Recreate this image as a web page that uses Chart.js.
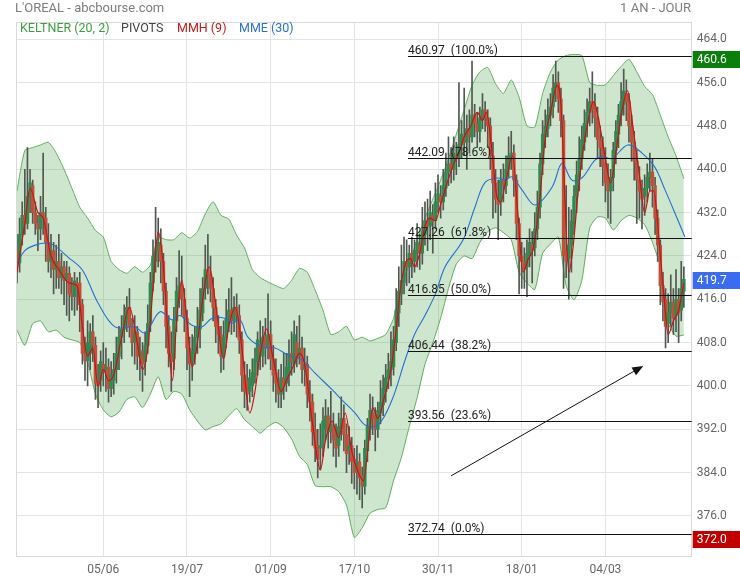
<!DOCTYPE html>
<html><head><meta charset="utf-8">
<script src="https://cdn.jsdelivr.net/npm/chart.js@4.4.0/dist/chart.umd.min.js"></script>
<style>html,body{margin:0;padding:0;background:#fff;}canvas{display:block;}</style>
</head><body>
<canvas id="c" width="740" height="580"></canvas>
<script>
// ---- texts ----
const chartTitle = "L'OREAL - abcbourse.com";
const periodText = "1 AN - JOUR";
const legendItems = ["KELTNER (20, 2)", "PIVOTS", "MMH (9)", "MME (30)"];
const legendColors = ["#3c9f3c", "#444444", "#c41a1a", "#2a72d0"];

// ---- axes ----
const xTickIdx = [33, 65, 97, 129, 161, 193, 225];
const xTickLabels = ["05/06", "19/07", "01/09", "17/10", "30/11", "18/01", "04/03"];
const yTicks = [376, 384, 392, 400, 408, 416, 424, 432, 440, 448, 456, 464];

// ---- daily candles (one per trading day, index 0..255) ----
const opens = [425.5,422.7,428,431.5,430,435,437,432,430,429,
432,431,426.5,423,425,421.5,423,420,422,419.5,
420.8,417,416.5,419,419,415,406,404.6,406,410,
407.5,400.5,401,404,403,403.5,399.5,401,403,405.5,
409,410.5,412,414.5,411,408,410,405.5,406.5,404.5,
407.5,411.5,419,423,425,426,423,417.5,411,406,
405,412,417,418.5,416,412.5,407,404.5,406,409,
410.5,413.5,418,421.5,420.5,418,414.5,411,409.5,405.5,
409,412.5,414,412,414.5,413,408.5,402,401,399,
400,402,404.5,407.5,405.5,409,407,409.5,405,402.5,
401,398.5,401.5,400.5,402,406,404,408,405.5,407,
403,404,398.5,397,392,389,388.5,389,392,394.5,
391.5,392.5,390,389,392,394,391,388,389,386.5,
384.5,386,383.5,381.5,388,392,395,394.5,392,395,
396.5,399,401.5,403,403.5,408,413.5,417,419,423,
422,424.5,423,424.5,426,424.5,428,430.5,429.5,431.5,
430.5,434,435,434,436.5,439.5,441,440,442.5,442,
444.5,446,445,447.5,446,450,448.5,447,449.5,451,
449.5,448,442.5,437.5,434.5,434,438,437,440,442,
443,438,430,424,423,422,424,426,425.5,429,
433,441,446,447.5,450,451.5,455,456,453,449,
425,423.5,426,430,435,438.5,442,445,448.5,450.5,
452.5,451.5,449.5,445.5,444,441,438.5,436,438.5,443.5,
446.5,450,452,454,452.5,448,445,441.5,438,436,
435,436.5,438.5,439.5,437,431,426,418.5,416,411.5,
413.5,415.5,413,416,414,417.5];
const highs = [428,431,434,440,444,440,438,434,431.5,435,
443,433,430,428,426.5,426,428,424.5,423,423,
422,420,421,420,421,416,409,412,411.5,413,
409,404,406.5,408,407,405,404.5,406,409,411,
413,415,416.5,418,412.5,413,411,409,408,410,
415,421,427,433,431,429,424.5,419,413,410,
414.5,420,425,424,418,414,409,409.5,411,414.5,
418,420,426,428,424,420,416,413,411,412,
416,418,420,416.5,417,415,410,404.5,404,403,
405,407,410,412,411,412.5,417,412,407.5,405,
403,404,406,406,408.5,410,412,411,413,409,
407,405.5,401,398.5,395,392,393,396,397.5,396,
399,395,393,395,398,396.5,393,392.5,390.5,388.5,
389,387.5,385,390,394,398.5,398,396,397,401,
402,404,406,410,411,418,422,426,427.5,427,
426,427.5,427,430,428,433,434,434.5,436,433.5,
437.5,439,437,440,443,446,444,446,445,456,
449,455,450,451,460,452,450.5,451.5,454,452.5,
451,449.5,445,440,438,440,441,442.5,446,447,
444.5,439,431,426.5,425.5,427,429,428.5,432,436,
443,449,451,453,454,457.5,460,458,455,450,
437,433,432.5,437,441.5,446,448,451,453,455,
458,454,451.5,448,446,444,441,440,445,449,
452,456,458.5,456.5,454,450,447,443.5,440.5,438,
439,441,443,442,438.5,432.5,427,421,418,417,
420.5,418,421.5,418,423,422];
const lows = [419,421,426,428,429,432,430,428,425,427,
428,423,421,420,417,418,418,417,415,413,
412,414,413,414,410,404,401,400,403,404.5,
397.5,396,399,400,399,397,398,398.5,400.5,403,
405,408,410,409,405.5,404,403,401,399,402,
406,410,417.5,421,422,419,415,407,403.5,399,
403,410,414.5,413,410,403,398,401,404,406,
407,412,416,417,415.5,412,408,406,402.5,403,
407,410,409.5,410,409,406,399,396,395.5,397,
398,400.5,402,403,403.5,404,405,403,399,397,
396,396,397.5,399,400,402,402.5,403.5,404,400.5,
400,396,393.5,389,386,383,384.5,387,390,388.5,
389.5,387,385,387,390,388,384,385.5,382,381,
380,379,377.5,380,386,390,391,388,390.5,393,
394.5,397,399.5,400,402,406.5,411,415,417,418.5,
419,420,421,422,421.5,422.5,426,425,427,424.5,
429,432,431,432.5,435,437,437.5,438,439,440.5,
442,442.5,440,443,445,446,444,445,447.5,447,
444,440,431,432,427,431.5,434,435.5,438.5,440,
435,427,417,418,418,416.5,422,419,424,427,
431,439,444,446,448,449.5,452.5,450.5,446,418,
420,416,421,428,432,436,440,443.5,446,448,
448.5,446,442,440.5,437,434,431,430,436,441,
444,448,450,449,445,441.5,438,430,431,429,
431.5,434,436,433,428,423,415,412,407,408,
411,409.5,410,408,412,414.5];
const closes = [422.7,428,431.5,430,435,437.5,432,430,429,432,
431,426.5,423,425,421.5,423,420,422,419.5,420.8,
417,416.5,419.4,418,415,406,404.6,408,410,407.5,
400.5,400,404.5,402.7,403.5,399.5,402,403,406,409,
410.5,413,414.5,411,408,410,405.5,406.5,404,407.5,
411.5,419,424,425,426.5,423,417.5,411,406,404.5,
412,417.5,418.5,416,412.5,407,404,406.5,409,411,
414,418,421.5,420.5,418,414.5,411,409.5,405.5,409,
412.5,414,412,414.5,413,408.5,402,399,398.5,401.5,
402.5,405,408.5,406,409,407,409.5,405,402,400.5,
398.5,401.5,400,403.5,406,404.5,409.5,405,407,403,
404,398.5,397,391.5,388.5,386.5,389,393.5,394.5,391.5,
393,390,388.5,392.5,394,391,387.5,389,386,384,
386,383,381.5,388.5,392.5,395.5,394,392,395.5,397,
399.5,401.5,403,404.5,408.5,414,417.5,419.5,423,422,
424.5,423,425,426.5,424.5,428.5,430.5,429.5,432,430.5,
434,435.5,434,437,439.5,441,440,443,442,444.5,
446.5,445,447.5,446,450,448.5,447,449.5,451,449.5,
448,442.5,437.5,434.5,433.5,438,437,440,442.5,443,
438,430,424,423,421.5,424.5,426.5,425,429,433,
441,446.5,448,450,451.5,455,456,453,449,424,
423,426,430.5,435,439,442,445.5,448.5,450.5,452.5,
451,449.5,445.5,444,440.5,437.5,436,438.5,443.5,447,
450,452.5,454.5,452.5,448,445,441.5,438,436,434.5,
436.5,438.5,439.5,437,431,426,418.5,415.5,411,413.5,
415.5,412.5,416,413.5,418,419.7];

// ---- Keltner (20,2) bands, read every 3 days ----
const bandIdx = [0,3,6,9,12,15,18,21,24,27,30,33,36,39,42,45,48,51,54,57,60,63,66,69,72,75,78,81,84,87,
90,93,96,99,102,105,108,111,114,117,120,123,126,129,132,135,138,141,144,147,150,153,156,159,162,165,168,171,174,177,
180,183,186,189,192,195,198,201,204,207,210,213,216,219,222,225,228,231,234,237,240,243,246,249,252,255];
const keltnerUpper = [436,443.5,444,444.5,445,443,440,436.5,433,431,
428.7,427.5,423,421.5,420.8,422,421,422.3,427.5,427,
427,428.3,427.3,428.5,431.8,434,431.5,430.8,427.8,425.5,
421.5,420,419.2,418.5,418,419.5,421.7,421,417.7,414,
409.5,410,411,408.5,409,408.3,408.8,409.5,412.5,418.5,
422.5,427,431,434.5,438,442,446.5,451,455.5,458,
458.8,455.8,454,456.5,453.3,448,447.8,454,458,460.2,
461,461.2,461,456,455.5,455.6,457.3,459,460.3,458,
455.3,453.8,450,446,442.5,438.3];
const keltnerLower = [410.3,407.5,411.5,412,410,410.3,409,408.5,408,404.5,
398.5,395.6,394.3,395.2,397.5,398,396,398.5,401.7,397.5,
399,398.5,395.6,393.5,391.9,392.5,393,394.5,395.8,393.8,
392.5,391.3,392.5,393.3,392.3,390.2,387,385.5,381.6,381.4,
381.4,380.5,378,372,373.8,376.5,377.2,377.5,382.5,386.8,
392.5,397.8,404,408,412.5,418,422.5,424,423.5,426.5,
428.5,429.2,428.3,427,421,419,417.8,424.5,426.2,427.5,
418.5,415.9,419.5,429.2,431.2,431,428.8,430.5,431.5,431,
429.8,426.5,422,411.6,409.2,409.4];

// ---- MME (30) ----
const mmeIdx = [0,3,7,11,14,19.5,25,31,37.5,45,49,54.7,59.3,62.3,66.9,70.7,74.6,79.5,82.2,85.3,88.3,93.7,98.7,103.6,109,113.9,120.5,124.3,129.3,133.1,138.1,143.4,148.4,152,156,160,163.7,170.6,175.1,179,183.9,186.6,189.3,193.1,198.1,204.6,208.4,212.2,216,221,224,227.5,233.6,239,243.9,247.8,251.6,255.4];
const mmeValues = [422.7,425,426,426.4,426,423.8,421.4,415.3,410.9,410.9,409.8,413.7,412.2,413,411.2,410.9,412.5,412.5,411.6,412.2,409,407.2,407,405.7,404.8,402.4,399.3,397.4,395,392.8,392.8,397.4,404.8,409.5,413,417,422,427,433,437.6,438.4,438,438.6,436.2,433.4,436.7,441.1,438,438.4,441.7,442.3,442,444.5,443,440.4,436.2,431.9,427.5];

// ---- MMH (9) ----
const mmhIdx = [0,3,5,8,10,13,16,20,23,25,27,29,31,33,35,37,40,43,46,48,50,52,54,56,58,59.5,61,63,65,67,69,71,73.5,76,79,81,83.5,86,89,91,93,95.5,98,101,103,105.5,108,110,113,116,118,120.5,123,125.5,128,130.5,132.5,134.5,136,138,140.5,143,145,146.5,148.5,150.5,152,154,156,158,160,162,164.5,167,169,171,173.5,176,178,179.5,181.5,183.5,185,187,189.5,191.5,193.5,195.5,197.5,200,202,204,206.5,208,209.5,211,212.5,215,218,220.5,222.5,225,227,229,231,233.5,235.5,238,240,242,243.5,245.5,247.5,249,251,253,255];
const mmhValues = [421,430,436.5,432,431,424,421.5,419,418.5,411,405.5,407,400,403,401,402,409,414.5,408,403,407,418,428.5,422,408,401,412,419.5,412,403.5,408,416,422,415,405,411,414.5,407,395,399,406,410.5,405,399,401,403.5,406,404,393,384.5,390,393.5,390.5,395,388,384,382.5,390,396,394,398,403,410.5,417.5,422.5,423.5,422,424.5,429.5,431,430.5,433.5,437.5,441,443,446,448,450.5,449,450.5,444,435,434,438,442.5,432,421,423.5,425.5,435,446,450.5,455.5,452,435,421,425,438,448,452.5,449,442,437.5,443,450,454.5,448,439,432,436,436,427,416,409.5,412,414,419];

// ---- Fibonacci pivots ----
const fibLevels = [460.97, 442.09, 427.26, 416.85, 406.44, 393.56, 372.74];
const fibPercents = ["100.0%", "78.6%", "61.8%", "50.0%", "38.2%", "23.6%", "0.0%"];
const fibStartIdx = 149.5;

// ---- arrow annotation (data coords: index, price) ----
const arrowStart = [166, 383.4];
const arrowEnd = [239.5, 403.7];

// ---- price tags on right axis ----
const tagValues = [460.6, 419.7, 372.0];
const tagColors = ["#0b7f0b", "#3a6cf3", "#c20000"];

const UP = "#2e8a4f", DOWN = "#c0503a", WICK = "#505850";
const dayIdx = closes.map((_, i) => i);

const overlay = {
  id: 'overlay',
  afterDatasetsDraw(chart) {
    const {ctx, chartArea: a, scales: {x, y}} = chart;
    ctx.save();
    ctx.font = "12px Roboto, sans-serif";
    fibLevels.forEach((lv, k) => {
      const py = Math.round(y.getPixelForValue(lv)) + 0.5;
      const px = x.getPixelForValue(fibStartIdx);
      ctx.strokeStyle = "#111"; ctx.lineWidth = 1;
      ctx.beginPath(); ctx.moveTo(px, py); ctx.lineTo(a.right, py); ctx.stroke();
      ctx.fillStyle = "#222"; ctx.textAlign = "left"; ctx.textBaseline = "alphabetic";
      ctx.fillText(lv.toFixed(2) + "  (" + fibPercents[k] + ")", px, py - 2.5);
    });
    // arrow
    const x0 = x.getPixelForValue(arrowStart[0]), y0 = y.getPixelForValue(arrowStart[1]);
    const x1 = x.getPixelForValue(arrowEnd[0]), y1 = y.getPixelForValue(arrowEnd[1]);
    const ang = Math.atan2(y1 - y0, x1 - x0);
    const hl = 11, hw = 4.5;
    const bx = x1 - hl * Math.cos(ang), by = y1 - hl * Math.sin(ang);
    ctx.strokeStyle = "#111"; ctx.lineWidth = 1;
    ctx.beginPath(); ctx.moveTo(x0, y0); ctx.lineTo(bx, by); ctx.stroke();
    ctx.fillStyle = "#111";
    ctx.beginPath();
    ctx.moveTo(x1, y1);
    ctx.lineTo(bx + hw * Math.sin(ang), by - hw * Math.cos(ang));
    ctx.lineTo(bx - hw * Math.sin(ang), by + hw * Math.cos(ang));
    ctx.closePath(); ctx.fill();
    ctx.restore();
  },
  afterDraw(chart) {
    const {ctx, chartArea: a, scales: {y}} = chart;
    ctx.save();
    // borders
    ctx.strokeStyle = "#d9d9d9"; ctx.lineWidth = 1;
    ctx.beginPath();
    ctx.moveTo(a.left + 0.5, a.bottom); ctx.lineTo(a.left + 0.5, a.top + 0.5); ctx.lineTo(a.right, a.top + 0.5);
    ctx.stroke();
    // title
    ctx.textBaseline = "middle";
    ctx.font = "13px Roboto, sans-serif"; ctx.fillStyle = "#7d7d7d";
    ctx.textAlign = "left"; ctx.fillText(chartTitle, 15, 9);
    ctx.textAlign = "right"; ctx.fillText(periodText, 691, 9);
    // legend
    ctx.font = "12.5px Roboto, sans-serif"; ctx.textAlign = "left";
    const lx = [20, 121, 177, 239];
    legendItems.forEach((t, k) => { ctx.fillStyle = legendColors[k]; ctx.fillText(t, lx[k], 29); });
    // tags
    ctx.font = "12px Roboto, sans-serif";
    tagValues.forEach((v, k) => {
      const cy = y.getPixelForValue(v) + 1.5;
      ctx.fillStyle = tagColors[k];
      ctx.fillRect(a.right + 1, Math.round(cy - 8.5), 740 - a.right - 1, 17);
      ctx.fillStyle = "#fff"; ctx.textAlign = "left";
      ctx.fillText(v.toFixed(1), a.right + 5, cy + 0.5);
    });
    ctx.restore();
  }
};

Chart.defaults.font.family = "Roboto, 'Open Sans', sans-serif";

new Chart(document.getElementById('c'), {
  type: 'bar',
  data: {
    datasets: [
      { type: 'line', label: 'KeltnerUpper', data: bandIdx.map((i, k) => ({x: i, y: keltnerUpper[k]})),
        borderColor: '#5fb05f', borderWidth: 1, pointRadius: 0, tension: 0.2,
        fill: '+1', backgroundColor: 'rgba(60,155,60,0.25)', order: 10 },
      { type: 'line', label: 'KeltnerLower', data: bandIdx.map((i, k) => ({x: i, y: keltnerLower[k]})),
        borderColor: '#5fb05f', borderWidth: 1, pointRadius: 0, tension: 0.2, fill: false, order: 10 },
      { type: 'bar', label: 'wicks', data: dayIdx.map(i => ({x: i, y: [lows[i], highs[i]]})),
        backgroundColor: WICK, barThickness: 1, grouped: false, order: 5 },
      { type: 'bar', label: 'bodies', data: dayIdx.map(i => ({x: i, y: [opens[i], closes[i]]})),
        backgroundColor: dayIdx.map(i => closes[i] >= opens[i] ? UP : DOWN),
        barThickness: 2.8, grouped: false, minBarLength: 1, order: 4 },
      { type: 'line', label: 'MME', data: mmeIdx.map((i, k) => ({x: i, y: mmeValues[k]})),
        borderColor: '#2371d3', borderWidth: 1.1, pointRadius: 0, tension: 0.35, fill: false, order: 2 },
      { type: 'line', label: 'MMH', data: mmhIdx.map((i, k) => ({x: i, y: mmhValues[k]})),
        borderColor: '#cc1111', borderWidth: 1.2, pointRadius: 0, cubicInterpolationMode: 'monotone', fill: false, order: 1 }
    ]
  },
  options: {
    responsive: false, animation: false, devicePixelRatio: 1,
    layout: { padding: { left: 16, top: 22, right: 0, bottom: 0 } },
    plugins: { legend: { display: false }, tooltip: { enabled: false }, title: { display: false } },
    scales: {
      x: {
        type: 'linear', min: -0.38, max: 258, offset: false,
        grid: { offset: false, color: '#e4e4e4', drawTicks: false },
        border: { display: true, color: '#d9d9d9' },
        ticks: { padding: 7, color: '#666', font: { size: 12 }, maxRotation: 0, autoSkip: false,
          callback: v => { const k = xTickIdx.indexOf(v); return k >= 0 ? xTickLabels[k] : ''; } },
        afterBuildTicks: s => { s.ticks = xTickIdx.map(v => ({ value: v })); },
        afterFit: s => { s.height = 24; }
      },
      y: {
        position: 'right', min: 368.6, max: 467.2,
        grid: { color: '#e4e4e4', drawTicks: false },
        border: { display: true, color: '#d9d9d9' },
        ticks: { padding: 5, color: '#666', font: { size: 12 }, callback: v => Number(v).toFixed(1) },
        afterBuildTicks: s => { s.ticks = yTicks.map(v => ({ value: v })); },
        afterFit: s => { s.width = 48.3; }
      }
    }
  },
  plugins: [overlay]
});
</script>
</body></html>
